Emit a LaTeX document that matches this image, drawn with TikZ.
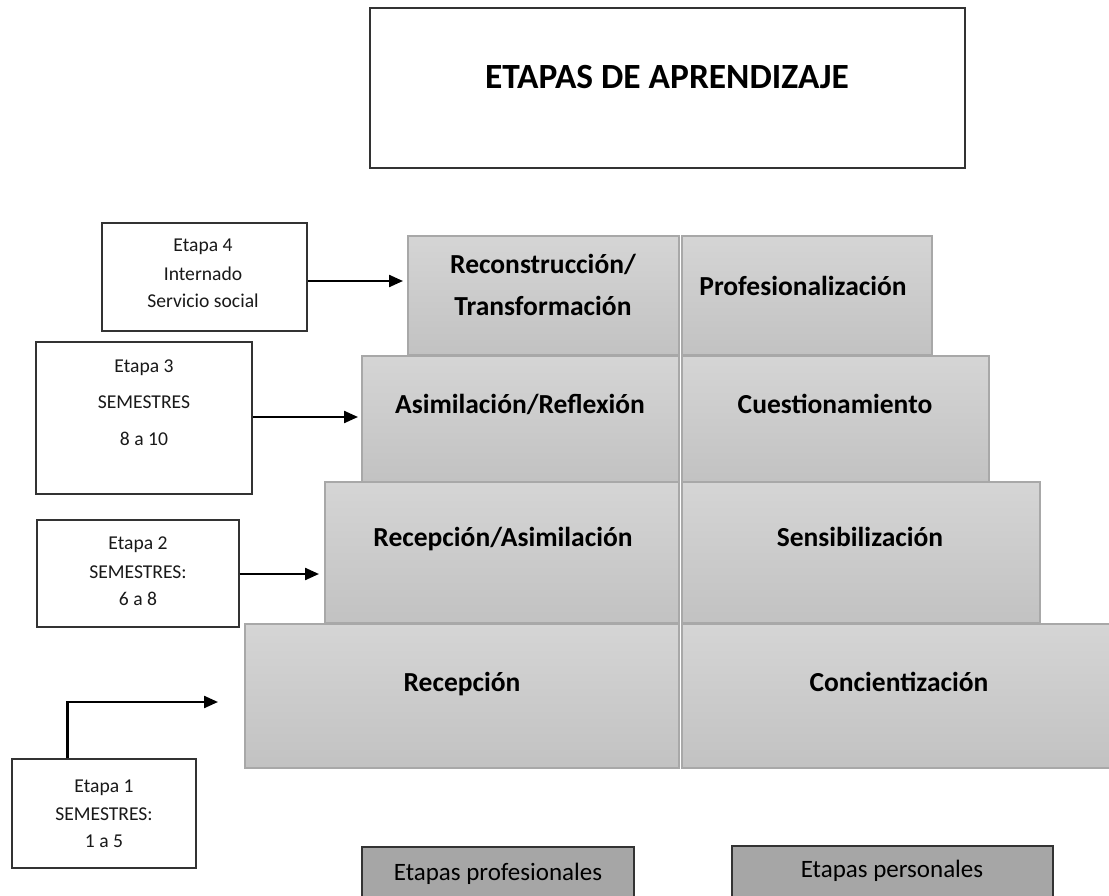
\documentclass[tikz,border=0pt]{standalone}
\usepackage{fontspec}
\setmainfont{Carlito}
\usetikzlibrary{arrows.meta}
\definecolor{celltop}{HTML}{D5D5D5}
\definecolor{cellbot}{HTML}{C2C2C2}
\definecolor{cellline}{HTML}{A8A8A8}
\definecolor{boxline}{HTML}{333333}
\definecolor{legfill}{HTML}{A6A6A6}
\begin{document}
\begin{tikzpicture}[x=1pt,y=-1pt,
  cell/.style={draw=cellline, line width=1.5pt, top color=celltop, bottom color=cellbot, inner sep=0pt},
  stagebox/.style={draw=boxline, line width=1.3pt, fill=white, inner sep=0pt},
  legbox/.style={draw=boxline, line width=1.3pt, fill=legfill, inner sep=0pt},
  btxt/.style={font=\fontsize{27.5}{32}\selectfont\bfseries, anchor=base, inner sep=0pt},
  stxt/.style={font=\fontsize{19.6}{23}\selectfont, anchor=base, inner sep=0pt, text=black!90},
  ltxt/.style={font=\fontsize{25}{29}\selectfont, anchor=base, inner sep=0pt},
  conn/.style={line width=2.3pt, -{Triangle[length=14pt,width=12pt]}}]
\useasboundingbox (0,0) rectangle (1109,896);
% title
\node[stagebox, minimum width=595pt, minimum height=160pt] (title) at (667.5,88) {};
\node[font=\fontsize{35.4}{40}\selectfont\bfseries, anchor=base, inner sep=0pt] (titletxt) at (667,89) {ETAPAS DE APRENDIZAJE};
% pyramid cells
\node[cell, minimum width=271pt, minimum height=119pt] (c4l) at (543.5,295.5) {};
\node[cell, minimum width=250pt, minimum height=119pt] (c4r) at (807,295.5) {};
\node[cell, minimum width=317pt, minimum height=126pt] (c3l) at (520.5,419) {};
\node[cell, minimum width=307pt, minimum height=126pt] (c3r) at (835.5,419) {};
\node[cell, minimum width=354pt, minimum height=141pt] (c2l) at (502,552.5) {};
\node[cell, minimum width=358pt, minimum height=141pt] (c2r) at (861,552.5) {};
\node[cell, minimum width=434pt, minimum height=144pt] (c1l) at (462,696) {};
\node[cell, minimum width=434pt, minimum height=144pt] (c1r) at (899,696) {};
% pyramid texts
\node[btxt] (t4a) at (543,274) {Reconstrucción/};
\node[btxt] (t4b) at (543,316) {Transformación};
\node[btxt] (t4c) at (803,295) {Profesionalización};
\node[btxt] (t3a) at (520,413) {Asimilación/Reflexión};
\node[btxt] (t3b) at (835,413) {Cuestionamiento};
\node[btxt] (t2a) at (503,546) {Recepción/Asimilación};
\node[btxt] (t2b) at (860,546) {Sensibilización};
\node[btxt] (t1a) at (462,691) {Recepción};
\node[btxt] (t1b) at (899,691) {Concientización};
% stage boxes
\node[stagebox, minimum width=205pt, minimum height=108pt] (e4) at (204.5,277) {};
\node[stxt] (e4a) at (203,252) {Etapa 4};
\node[stxt] (e4b) at (203,280) {Internado};
\node[stxt] (e4c) at (203,307) {Servicio social};
\node[stagebox, minimum width=216pt, minimum height=152pt] (e3) at (144,418) {};
\node[stxt] (e3a) at (144,372) {Etapa 3};
\node[stxt] (e3b) at (144,408) {SEMESTRES};
\node[stxt] (e3c) at (144,445) {8 a 10};
\node[stagebox, minimum width=202pt, minimum height=107pt] (e2) at (138,573.5) {};
\node[stxt] (e2a) at (138,549) {Etapa 2};
\node[stxt] (e2b) at (138,578) {SEMESTRES:};
\node[stxt] (e2c) at (138,605) {6 a 8};
\node[stagebox, minimum width=184pt, minimum height=109pt] (e1) at (104,813.5) {};
\node[stxt] (e1a) at (104,792) {Etapa 1};
\node[stxt] (e1b) at (104,820) {SEMESTRES:};
\node[stxt] (e1c) at (104,847) {1 a 5};
% arrows
\coordinate (p4) at (403,281);
\coordinate (p3) at (358,417);
\coordinate (p2) at (319,574);
\coordinate (p1) at (218,702);
\draw[conn] (e4.east |- p4) -- (p4);
\draw[conn] (e3.east |- p3) -- (p3);
\draw[conn] (e2.east |- p2) -- (p2);
\draw[conn] ([xshift=56pt]e1.north west) |- (p1);
% legend
\node[legbox, minimum width=272pt, minimum height=58pt] (lp) at (498,876) {};
\node[ltxt] (lpt) at (498,880) {Etapas profesionales};
\node[legbox, minimum width=321pt, minimum height=58pt] (lq) at (892.5,875) {};
\node[ltxt] (lqt) at (892,877) {Etapas personales};
\end{tikzpicture}
\end{document}
